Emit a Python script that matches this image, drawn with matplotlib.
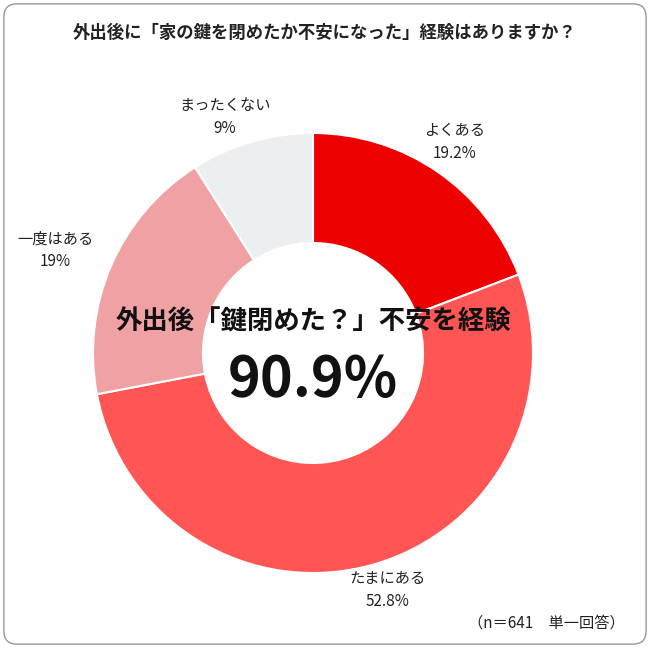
import matplotlib.pyplot as plt
from matplotlib.patches import FancyBboxPatch

plt.rcParams['font.family'] = ['Noto Sans CJK JP', 'DejaVu Sans']

labels = ['よくある', 'たまにある', '一度はある', 'まったくない']
values = [19.2, 52.8, 19, 9]
value_text = ['19.2%', '52.8%', '19%', '9%']
colors = ['#EE0000', '#FF5555', '#F0A1A3', '#ECEFF2']
# label anchor points in pixels (x, y from top)
label_pos = [(455, 142), (388, 590), (55, 250), (225, 117)]

W, H = 650, 648
fig = plt.figure(figsize=(W / 100, H / 100), dpi=100)
fig.patches.append(FancyBboxPatch((0.006, 0.006), 0.988, 0.988,
                                  boxstyle='round,pad=0,rounding_size=0.02',
                                  transform=fig.transFigure, fill=False,
                                  edgecolor='#999999', lw=1))

cx, cy, r = 313, 353, 220
ax = fig.add_axes([(cx - r) / W, (H - cy - r) / H, 2 * r / W, 2 * r / H])
ax.pie(values, colors=colors, startangle=90, counterclock=False,
       wedgeprops=dict(width=0.5, edgecolor='white', linewidth=1.5))
ax.set_xlim(-1, 1)
ax.set_ylim(-1, 1)
ax.set_aspect('equal')
ax.axis('off')

for lab, vt, (px, py) in zip(labels, value_text, label_pos):
    fig.text(px / W, 1 - py / H, lab + '\n' + vt, ha='center', va='center',
             fontsize=11, linespacing=1.4, color='#222222')

fig.text(0.5, 1 - 33 / H, '外出後に「家の鍵を閉めたか不安になった」経験はありますか？',
         ha='center', va='center', fontsize=12.5, fontweight='bold', color='#222222')
fig.text(cx / W, 1 - 322 / H, '外出後「鍵閉めた？」不安を経験', ha='center', va='center',
         fontsize=19, fontweight='bold', color='#111111')
fig.text(cx / W, 1 - 380 / H, '90.9%', ha='center', va='center',
         fontsize=40, fontweight='bold', color='#111111')
fig.text(625 / W, 1 - 623 / H, '（n＝641　単一回答）', ha='right', va='center',
         fontsize=11, color='#222222')

fig.savefig('out.png', dpi=100)
